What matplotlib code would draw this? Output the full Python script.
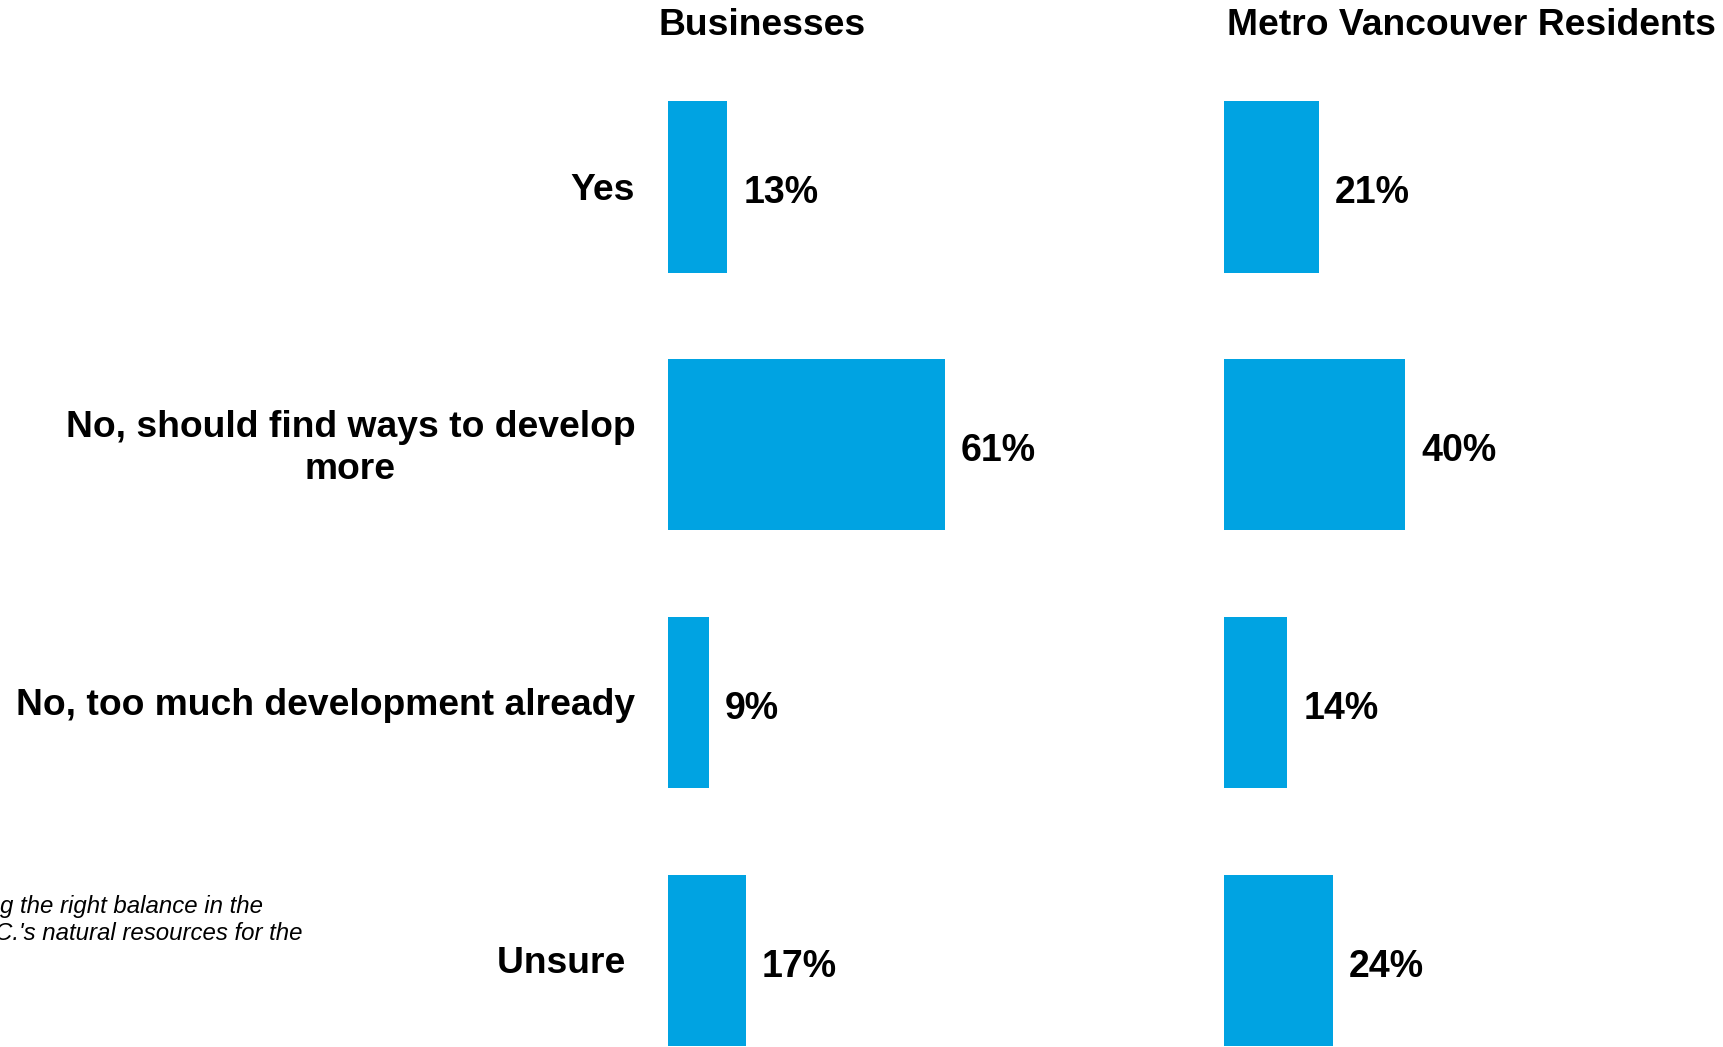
import matplotlib.pyplot as plt

plt.rcParams['font.family'] = ['Liberation Sans', 'DejaVu Sans']

categories = ['Yes', 'No, should find ways to develop\nmore', 'No, too much development already', 'Unsure ']
businesses = [13, 61, 9, 17]
residents = [21, 40, 14, 24]
groups = ['Businesses', 'Metro Vancouver Residents']
note_lines = ['g the right balance in the', "C.'s natural resources for the"]

BLUE = '#00A3E2'
W, H = 1724, 1047

fig = plt.figure(figsize=(W / 100, H / 100), dpi=100)

# px geometry
row = 257.8
top_center = 186.9
ax_bottom = (H - (top_center + 3.5 * row)) / H
ax_height = 4 * row / H
ax_w = 453 / W

ax1 = fig.add_axes([668.5 / W, ax_bottom, ax_w, ax_height])
ax2 = fig.add_axes([1223.8 / W, ax_bottom, ax_w, ax_height])

ypos = range(len(categories))
for ax, vals in [(ax1, businesses), (ax2, residents)]:
    bars = ax.barh(ypos, vals, height=0.665, color=BLUE)
    ax.set_xlim(0, 100)
    ax.set_ylim(3.5, -0.5)
    ax.axis('off')
    for b, v in zip(bars, vals):
        ax.annotate(f'{v}%', (b.get_width(), b.get_y() + b.get_height() / 2),
                    xytext=(11.5, -4.5), textcoords='offset points',
                    ha='left', va='center', fontsize=27, fontweight='bold',
                    annotation_clip=False)

for i, lab in enumerate(categories):
    ax1.annotate(lab, (0, i), xytext=(-24, -2.5), textcoords='offset points',
                 ha='right', va='center', multialignment='center',
                 fontsize=26.8, fontweight='bold', linespacing=1.25,
                 annotation_clip=False)

fig.text(762 / W, 1 - 25.5 / H, groups[0], ha='center', va='center',
         fontsize=26.8, fontweight='bold')
fig.text(1471 / W, 1 - 25.5 / H, groups[1], ha='center', va='center',
         fontsize=26.8, fontweight='bold')

fig.text(263 / W, 1 - 906 / H, note_lines[0], ha='right', va='center',
         fontsize=17.3, style='italic')
fig.text(303 / W, 1 - 934 / H, note_lines[1], ha='right', va='center',
         fontsize=17.3, style='italic')

fig.savefig('out.png', dpi=100)
